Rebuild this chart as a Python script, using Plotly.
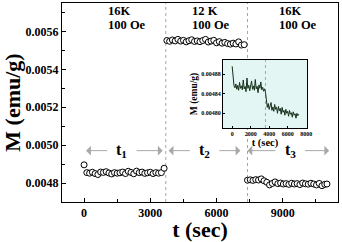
import plotly.graph_objects as go

# ---------------- data ----------------
seg1_t = [0, 125, 250, 375, 500, 625, 750, 875, 1000, 1125, 1250, 1375, 1500, 1625, 1750,
          1875, 2000, 2125, 2250, 2375, 2500, 2625, 2750, 2875, 3000, 3125, 3250, 3375, 3500, 3625]
seg1_m = [0.004896, 0.004855, 0.004852, 0.004857, 0.004850, 0.004845, 0.004858, 0.004856,
          0.004860, 0.004853, 0.004848, 0.004855, 0.004852, 0.004854, 0.004858, 0.004850,
          0.004862, 0.004856, 0.004849, 0.004863, 0.004855, 0.004858, 0.004851, 0.004854,
          0.004857, 0.004850, 0.004855, 0.004852, 0.004855, 0.004878]

seg2_t = [3750, 3875, 4000, 4125, 4250, 4375, 4500, 4625, 4750, 4875, 5000, 5125, 5250, 5375,
          5500, 5625, 5750, 5875, 6000, 6125, 6250, 6375, 6500, 6625, 6750, 6875, 7000, 7125, 7250]
seg2_m = [0.005552, 0.005548, 0.005555, 0.005550, 0.005558, 0.005549, 0.005553, 0.005545,
          0.005551, 0.005556, 0.005547, 0.005550, 0.005546, 0.005552, 0.005558, 0.005544,
          0.005549, 0.005553, 0.005540, 0.005546, 0.005538, 0.005542, 0.005536, 0.005533,
          0.005538, 0.005534, 0.005545, 0.005528, 0.005530]

seg3_t = [7400, 7525, 7650, 7775, 7900, 8025, 8150, 8275, 8400, 8525, 8650, 8775, 8900, 9025,
          9150, 9275, 9400, 9525, 9650, 9775, 9900, 10025, 10150, 10275, 10400, 10525, 10650,
          10775, 10900, 11000]
seg3_m = [0.004815, 0.004817, 0.004814, 0.004818, 0.004816, 0.004822, 0.004812, 0.004804,
          0.004790, 0.004798, 0.004806, 0.004797, 0.004800, 0.004795, 0.004797, 0.004793,
          0.004799, 0.004795, 0.004797, 0.004792, 0.004800, 0.004796, 0.004794, 0.004799,
          0.004795, 0.004790, 0.004798, 0.004786, 0.004793, 0.004795]

switch_t = [3700, 7400]

inset_t = [0, 100, 200, 300, 400, 500, 600, 700, 800, 900, 1000, 1100, 1200, 1300, 1400,
           1500, 1600, 1700, 1800, 1900, 2000, 2100, 2200, 2300, 2400, 2500, 2600, 2700,
           2800, 2900, 3000, 3100, 3200, 3300, 3400, 3500, 3600, 3700, 3800, 3900, 4000,
           4100, 4200, 4300, 4400, 4500, 4600, 4700, 4800, 4900, 5000, 5100, 5200, 5300,
           5400, 5500, 5600, 5700, 5800, 5900, 6000, 6100, 6200, 6300, 6400, 6500, 6600,
           6700, 6800, 6900, 7000, 7100, 7200]
inset_m = [0.004896, 0.004864, 0.004856, 0.004852, 0.004860, 0.004849, 0.004857, 0.004847,
           0.004863, 0.004851, 0.004856, 0.004848, 0.004868, 0.004850, 0.004855, 0.004844,
           0.004872, 0.004851, 0.004857, 0.004846, 0.004854, 0.004866, 0.004849, 0.004856,
           0.004847, 0.004869, 0.004850, 0.004855, 0.004842, 0.004858, 0.004851, 0.004864,
           0.004848, 0.004853, 0.004845, 0.004850, 0.004843, 0.004818, 0.004812, 0.004820,
           0.004808, 0.004815, 0.004822, 0.004806, 0.004813, 0.004804, 0.004818, 0.004808,
           0.004812, 0.004800, 0.004814, 0.004805, 0.004810, 0.004798, 0.004812, 0.004802,
           0.004806, 0.004796, 0.004808, 0.004800, 0.004804, 0.004794, 0.004806, 0.004798,
           0.004801, 0.004792, 0.004803, 0.004796, 0.004799, 0.004790, 0.004800, 0.004795,
           0.004798]
inset_switch_t = 3600

cond_labels = [("16K", "100 Oe", 1000), ("12 K", "100 Oe", 4800), ("16K", "100 Oe", 8750)]
interval_labels = ["t<sub>1</sub>", "t<sub>2</sub>", "t<sub>3</sub>"]
interval_spans = [(90, 3560), (3830, 7080), (7400, 11100)]
interval_mid = [1714, 5460, 9338]
arrow_level = 0.004971

x_main = [-1000, 11500]
y_main = [0.0047, 0.00575]
x_ins = [-1000, 8100]
y_ins = [0.00477, 0.004909]
inset_dom_x = [0.583, 0.888]
inset_dom_y = [0.372, 0.714]

FONT = "Liberation Serif"
GRAY = "#a8a8a8"

fig = go.Figure()
for tt, mm in [(seg1_t, seg1_m), (seg2_t, seg2_m), (seg3_t, seg3_m)]:
    fig.add_trace(go.Scatter(x=tt, y=mm, mode="markers",
                             marker=dict(symbol="circle", size=6, color="white",
                                         line=dict(width=1, color="black")),
                             showlegend=False, xaxis="x", yaxis="y"))

fig.add_trace(go.Scatter(x=inset_t, y=inset_m, mode="lines",
                         line=dict(color="#14301a", width=1),
                         showlegend=False, xaxis="x2", yaxis="y2"))

# all in the lower (paper) shape layer, drawn in list order
shapes = []
for st in switch_t:
    shapes.append(dict(type="line", xref="x", yref="paper", x0=st, x1=st,
                       y0=0, y1=1, layer="below",
                       line=dict(color="#9aa8b0", width=1, dash="dot")))
shapes.append(dict(type="rect", xref="paper", yref="paper",
                   x0=inset_dom_x[0], x1=inset_dom_x[1],
                   y0=inset_dom_y[0], y1=inset_dom_y[1], layer="below",
                   fillcolor="#e4f6f3", line=dict(width=0)))
shapes.append(dict(type="line", xref="x2", yref="paper", x0=inset_switch_t, x1=inset_switch_t,
                   y0=inset_dom_y[0], y1=inset_dom_y[1], layer="below",
                   line=dict(color="#9aa8b0", width=1, dash="dot")))

annotations = []
for top, bot, xx in cond_labels:
    annotations.append(dict(x=xx, y=0.005708, xref="x", yref="y", text=top, showarrow=False,
                            xanchor="left", yanchor="middle",
                            font=dict(family=FONT, size=12.5, color="black", weight="bold")))
    annotations.append(dict(x=xx, y=0.005635, xref="x", yref="y", text=bot, showarrow=False,
                            xanchor="left", yanchor="middle",
                            font=dict(family=FONT, size=12.5, color="black", weight="bold")))

for lab, (a, b), mid in zip(interval_labels, interval_spans, interval_mid):
    annotations.append(dict(x=mid, y=arrow_level, xref="x", yref="y", text=lab, showarrow=False,
                            xanchor="center", yanchor="middle",
                            font=dict(family=FONT, size=16, color="black", weight="bold")))
    half = 600
    annotations.append(dict(x=a, y=arrow_level, ax=mid - half, ay=arrow_level,
                            xref="x", yref="y", axref="x", ayref="y", text="",
                            showarrow=True, arrowhead=1, arrowsize=1.6, arrowwidth=1,
                            arrowcolor=GRAY, standoff=0, startstandoff=0))
    annotations.append(dict(x=b, y=arrow_level, ax=mid + half, ay=arrow_level,
                            xref="x", yref="y", axref="x", ayref="y", text="",
                            showarrow=True, arrowhead=1, arrowsize=1.6, arrowwidth=1,
                            arrowcolor=GRAY, standoff=0, startstandoff=0))

tickfont = dict(family=FONT, size=12, color="black", weight="bold")
fig.update_layout(
    template="none",
    width=342, height=242,
    margin=dict(l=62, r=4, t=3, b=40, pad=0),
    paper_bgcolor="white", plot_bgcolor="rgba(0,0,0,0)",
    hovermode=False,
    shapes=shapes, annotations=annotations,
    xaxis=dict(domain=[0, 1], range=x_main, tickvals=[0, 3000, 6000, 9000], automargin=False,
               ticks="inside", ticklen=4, tickcolor="black", showline=True, mirror=True,
               linecolor="black", linewidth=1, showgrid=False, zeroline=False,
               minor=dict(ticks="inside", dtick=1500, tick0=0, ticklen=3, tickcolor="black",
                          showgrid=False),
               tickfont=tickfont,
               title=dict(text="t (sec)", standoff=0,
                          font=dict(family=FONT, size=22, color="black", weight="bold"))),
    yaxis=dict(domain=[0, 1], range=y_main, tick0=0.0048, dtick=0.0002, tickformat=".4f",
               automargin=False,
               ticks="inside", ticklen=4, tickcolor="black", showline=True, mirror=True,
               linecolor="black", linewidth=1, showgrid=False, zeroline=False,
               minor=dict(ticks="inside", dtick=0.0001, ticklen=3, tickcolor="black",
                          showgrid=False),
               tickfont=tickfont,
               title=dict(text="M (emu/g)", standoff=2,
                          font=dict(family=FONT, size=22, color="black", weight="bold"))),
    xaxis2=dict(domain=inset_dom_x, anchor="y2", range=x_ins, automargin=False,
                tickvals=[0, 2000, 4000, 6000, 8000], ticks="inside", ticklen=2,
                tickcolor="black", showline=True, mirror=True, linecolor="black",
                linewidth=0.8, showgrid=False, zeroline=False,
                tickfont=dict(family=FONT, size=6, color="black", weight="bold"),
                title=dict(text="t (sec)", standoff=1,
                           font=dict(family=FONT, size=10.5, color="black", weight="bold"))),
    yaxis2=dict(domain=inset_dom_y, anchor="x2", range=y_ins, automargin=False,
                tickvals=[0.00480, 0.00484, 0.00488], tickformat=".5f",
                ticks="inside", ticklen=2, tickcolor="black", showline=True, mirror=True,
                linecolor="black", linewidth=0.8, showgrid=False, zeroline=False,
                tickfont=dict(family=FONT, size=6, color="black", weight="bold"),
                title=dict(text="M (emu/g)", standoff=1,
                           font=dict(family=FONT, size=9.5, color="black", weight="bold"))),
)

fig.write_html("out.html", config={"displayModeBar": False},
               post_script="document.body.style.margin='0';document.body.style.padding='0';")
